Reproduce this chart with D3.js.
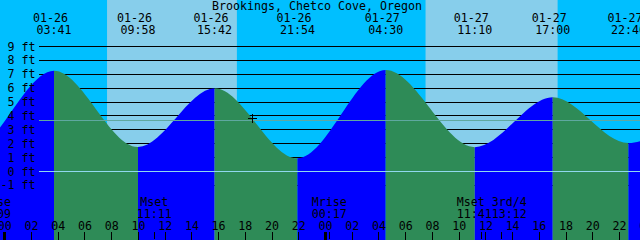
<!DOCTYPE html>
<html><head><meta charset="utf-8">
<script src="https://cdn.jsdelivr.net/npm/d3@7"></script>
<style>
body{margin:0;background:#fff}
svg{display:block}
text{font-family:"DejaVu Sans Mono",monospace;font-size:11.63px;fill:#000}
</style>
</head><body>
<svg id="c" width="640" height="240"></svg>
<script>
// ---------- data ----------
const title = "Brookings, Chetco Cove, Oregon";
const tideTimes   = ["2024-01-25 15:20","2024-01-25 21:25","2024-01-26 03:41","2024-01-26 09:58","2024-01-26 15:42","2024-01-26 21:54","2024-01-27 04:30","2024-01-27 11:10","2024-01-27 17:00","2024-01-27 22:40","2024-01-28 05:15"];
const tideHeights = [5.9, 1.5, 7.26, 1.77, 6.0, 0.95, 7.3, 1.75, 5.35, 2.05, 7.2];
const sunrise = ["2024-01-26 07:39","2024-01-27 07:29"];
const sunset  = ["2024-01-26 17:22","2024-01-27 17:22"];
const moonTimes  = ["2024-01-25 23:09","2024-01-26 11:11","2024-01-27 00:17","2024-01-27 11:41","2024-01-27 13:12"];
const moonLabels = ["Mrise","Mset","Mrise","Mset","3rd/4"];
const depthTicks = [-1,0,1,2,3,4,5,6,7,8,9];
const mslHeight = 3.67;
const datumHeight = 0;
const nowTime = "2024-01-26 18:30";
const nowHeight = 3.83;
const viewStart = "2024-01-25 23:38:27";
const viewHours = 47.89;

// ---------- setup ----------
const W = 640, H = 240;
const parse = d3.utcParse("%Y-%m-%d %H:%M");
const parseS = d3.utcParse("%Y-%m-%d %H:%M:%S");
const t0 = parseS(viewStart);
const t1 = new Date(+t0 + viewHours*3600e3);
const x = d3.scaleUtc().domain([t0, t1]).range([0, W]);
const y = d3.scaleLinear().domain([0, 9]).range([171.5, 46.5]);

const C = {night:"#00BFFF", day:"#87CEEB", rise:"#0000FF", fall:"#2E8B57", msl:"#5FA8A0", datum:"#90D8EE"};
const svg = d3.select("#c");
const tide = tideTimes.map((t,i)=>({t:parse(t), h:tideHeights[i]}));

// sky
svg.append("rect").attr("width",W).attr("height",H).attr("fill",C.night);
sunrise.forEach((r,i)=>{
  const a = x(parse(r)), b = x(parse(sunset[i]));
  svg.append("rect").attr("x",a).attr("y",0).attr("width",b-a).attr("height",H).attr("fill",C.day);
});

// depth lines (under water)
const lineX0 = 39;
svg.append("g").selectAll("line").data(depthTicks).join("line")
  .attr("x1",lineX0).attr("x2",W)
  .attr("y1",d=>y(d)).attr("y2",d=>y(d))
  .attr("stroke","#000").attr("stroke-width",1).attr("shape-rendering","crispEdges");

// water
const area = d3.area().x(d=>x(d.t)).y0(H).y1(d=>y(d.h)).curve(d3.curveMonotoneX);
const defs = svg.append("defs");
const pathD = area(tide);
for(let i=0;i<tide.length-1;i++){
  const a = x(tide[i].t), b = x(tide[i+1].t);
  defs.append("clipPath").attr("id","seg"+i).append("rect")
    .attr("x",a).attr("y",0).attr("width",b-a).attr("height",H);
  svg.append("path").attr("d",pathD)
    .attr("fill", tide[i+1].h > tide[i].h ? C.rise : C.fall)
    .attr("clip-path","url(#seg"+i+")");
}

// msl and datum lines
[[mslHeight,C.msl],[datumHeight,C.datum]].forEach(([h,c])=>{
  svg.append("line").attr("x1",lineX0).attr("x2",W)
    .attr("y1",Math.floor(y(h))+0.5).attr("y2",Math.floor(y(h))+0.5)
    .attr("stroke",c).attr("stroke-width",1).attr("shape-rendering","crispEdges");
});

// y labels
svg.append("g").selectAll("text").data(depthTicks).join("text")
  .attr("x",35.5).attr("y",d=>y(d)+4).attr("text-anchor","end")
  .text(d=>d+" ft");

// title
svg.append("text").attr("x",317).attr("y",10.3).attr("text-anchor","middle").text(title);

// tide event labels
const fDate = d3.utcFormat("%m-%d"), fTime = d3.utcFormat("%H:%M");
const vis = tide.filter(d=>d.t>=t0 && d.t<=t1);
const tg = svg.append("g");
vis.forEach(d=>{
  tg.append("text").attr("x",x(d.t)-3.5).attr("y",21.7).attr("text-anchor","middle").text(fDate(d.t));
  tg.append("text").attr("x",x(d.t)).attr("y",34).attr("text-anchor","middle").text(fTime(d.t));
});

// moon events with simple collision layout
const charW = 7;
const moon = moonTimes.map((t,i)=>{
  const tt = parse(t);
  return {t:tt, label:moonLabels[i], time:fTime(tt), x:x(tt),
          w:Math.max(moonLabels[i].length, 5)*charW};
});
moon.forEach(m=>{m.cx=m.x; m.anchor="middle";});
for(let i=0;i<moon.length-1;i++){
  const a=moon[i], b=moon[i+1];
  if(b.x - a.x < (a.w+b.w)/2){
    const mid=(a.x+b.x)/2, tot=a.w+b.w, s=mid-tot/2;
    a.cx = s; b.cx = s + a.w; a.anchor = b.anchor = "start";
  }
}
const mg = svg.append("g");
moon.forEach(m=>{
  mg.append("text").attr("x",m.cx).attr("y",206).attr("text-anchor",m.anchor).text(m.label);
  mg.append("text").attr("x",m.cx).attr("y",217.7).attr("text-anchor",m.anchor).text(m.time);
  mg.append("line").attr("x1",Math.floor(m.x)+0.5).attr("x2",Math.floor(m.x)+0.5)
    .attr("y1",232).attr("y2",239).attr("stroke","#000").attr("shape-rendering","crispEdges");
});

// hour axis
const hours = d3.utcHour.every(2).range(d3.utcHour.offset(t0,-2), d3.utcHour.offset(t1,2));
const hg = svg.append("g");
hours.forEach(h=>{
  const hx = x(h);
  hg.append("text").attr("x",hx).attr("y",230).attr("text-anchor","middle").text(d3.utcFormat("%H")(h));
  const mid = h.getUTCHours()===0;
  hg.append("line").attr("x1",Math.floor(hx)+0.5).attr("x2",Math.floor(hx)+0.5)
    .attr("y1",232).attr("y2",240).attr("stroke","#000")
    .attr("stroke-width",mid?3:1).attr("shape-rendering","crispEdges");
});

// current-time mark
const nx = x(parse(nowTime)), ny = y(nowHeight);
svg.append("line").attr("x1",nx-4.5).attr("x2",nx+4.5).attr("y1",Math.floor(ny)+0.5).attr("y2",Math.floor(ny)+0.5)
  .attr("stroke","#000").attr("shape-rendering","crispEdges");
svg.append("line").attr("x1",Math.floor(nx)+0.5).attr("x2",Math.floor(nx)+0.5).attr("y1",ny-4.5).attr("y2",ny+4.5)
  .attr("stroke","#000").attr("shape-rendering","crispEdges");
</script>
</body></html>
